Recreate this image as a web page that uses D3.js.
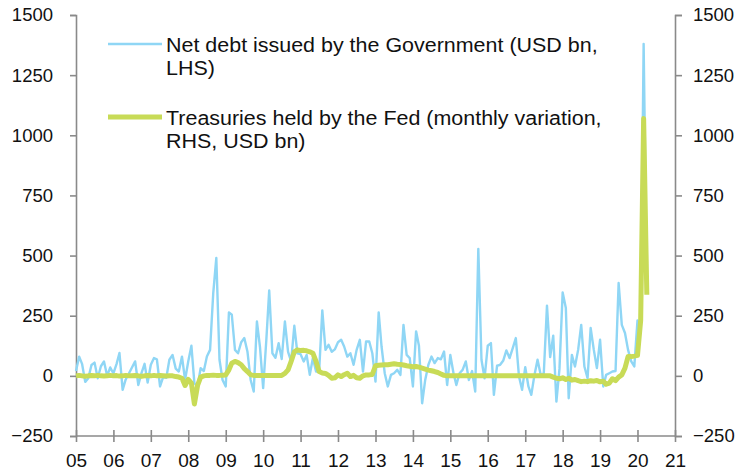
<!DOCTYPE html>
<html><head><meta charset="utf-8">
<script src="https://cdn.jsdelivr.net/npm/d3@7"></script>
<style>
html,body{margin:0;padding:0;background:#fff;}
text{font-family:"Liberation Sans",Arial,sans-serif;fill:#111;}
</style></head>
<body><svg id="c" width="742" height="474"></svg>
<script>
// Monthly data starting Jan 2005
const startYear = 2005;
const debtIssued = [
  // 2005
  20, 80, 50, -25, -10, 45, 55, -10, 40, 60, 0, 35,
  // 2006
  10, 50, 95, -58, -15, 10, 35, 60, -38, 10, 50, -28,
  // 2007
  46, 74, 69, -44, -5, -8, 67, 87, 30, 18, 80, -17,
  // 2008
  60, 125, -30, -44, 32, 20, 80, 108, 344, 490, 67, -17,
  // 2009
  -44, 264, 254, 108, 94, 140, 157, 100, -17, -65, 226, 120,
  // 2010
  -51, 150, 355, 94, 75, 136, 70, 226, 100, 60, 208, 94,
  // 2011
  90, 60, 87, 4, 74, 18, 18, 272, 108, 129, 100, 110,
  // 2012
  140, 150, 122, 80, 94, 46, 108, 150, 18, 143, 143, 94,
  // 2013
  -24, 264, 122, 11, -44, 4, 11, 25, 4, 212, 87, 74,
  // 2014
  -44, 185, 125, -114, -17, 46, 80, 53, 74, 69, 101, -38,
  // 2015
  87, 11, -38, 11, 25, 60, -17, 20, -65, 528, 67, -10,
  // 2016
  125, 136, -79, 42, 46, 64, 106, 74, 115, 157, -3, -58,
  // 2017
  36, -44, -79, 4, 67, 4, 11, 292, 78, 167, -107, 30,
  // 2018
  347, 282, -93, 87, 39, 108, 212, 39, -10, 199, 108, 32,
  // 2019
  150, -44, 4, 11, 18, 20, 386, 212, 178, 108, 60, 39,
  // 2020
  230, 200, 1380, 350
];
const fedTreasuries = [
  // 2005
  0, 2, 0, -2, 0, 1, 0, 2, 0, -1, 0, 2,
  // 2006
  0, 1, -1, 0, 2, 0, 0, 1, 0, -2, 0, 1,
  // 2007
  0, 2, 0, 1, 0, -1, 0, 0, -3, -5, -10, -40,
  // 2008
  -15, -30, -117, -40, -5, 0, 2, 2, 3, 2, 2, 3,
  // 2009
  4, 25, 53, 60, 55, 46, 30, 18, 4, 2, 2, 2,
  // 2010
  2, 2, 2, 2, 2, 2, 2, 10, 25, 60, 100, 108,
  // 2011
  105, 106, 104, 100, 94, 60, 18, 12, 10, 2, -10, -8,
  // 2012
  4, -3, 5, 11, -3, 2, -8, -10, 0, 4, 4, 6,
  // 2013
  42, 44, 45, 46, 46, 48, 50, 48, 47, 45, 42, 40,
  // 2014
  38, 39, 36, 32, 28, 24, 21, 18, 14, 8, 2, 0,
  // 2015
  0, 0, 0, 0, 0, 0, 0, 0, 0, 0, 0, 0,
  // 2016
  0, 0, 0, 0, 0, 0, 0, 0, 0, 0, 0, 0,
  // 2017
  0, 0, 0, 0, 0, 0, 0, 0, 0, -5, -10, -12,
  // 2018
  -8, -15, -10, -18, -15, -20, -24, -22, -24, -20, -22, -19,
  // 2019
  -25, -22, -35, -30, -12, -20, -5, 4, 32, 80, 80, 82,
  // 2020
  85, 230, 1070, 337
];
const yTicks = [-250, 0, 250, 500, 750, 1000, 1250, 1500];
const legendLabels = [
  ["Net debt issued by the Government (USD bn,", "LHS)"],
  ["Treasuries held by the Fed (monthly variation,", "RHS, USD bn)"]
];
const colors = ["#8fd6f5", "#c8db57"];

const svg = d3.select("#c");
const mLeft = 76, mRight = 675, mTop = 15, mBottom = 436;
const x = d3.scaleTime().domain([new Date(2005,0,1), new Date(2021,0,1)]).range([mLeft, mRight]);
const y = d3.scaleLinear().domain([-250, 1500]).range([mBottom, mTop]);
const dateOf = i => new Date(startYear + Math.floor(i/12), i%12, 1);
const axisColor = "#8a8a8a";

// Left axis
const gl = svg.append("g").attr("transform", `translate(${mLeft},0)`)
  .call(d3.axisLeft(y).tickValues(yTicks).tickSize(6).tickPadding(17).tickFormat(d3.format("d")));
// Right axis
const gr = svg.append("g").attr("transform", `translate(${mRight},0)`)
  .call(d3.axisRight(y).tickValues(yTicks).tickSize(7).tickPadding(11).tickFormat(d3.format("d")));
[gl, gr].forEach(g => {
  g.select(".domain").attr("stroke", axisColor).attr("stroke-width", 1.6);
  g.selectAll(".tick line").attr("stroke", axisColor).attr("stroke-width", 1.6);
  g.selectAll(".tick text").style("font-size", "18.5px").attr("fill", "#111")
    .style("font-family", '"Liberation Sans",Arial,sans-serif');
});

// Bottom axis
const years = d3.range(2005, 2022).map(yy => new Date(yy,0,1));
const gb = svg.append("g").attr("transform", `translate(0,${mBottom})`)
  .call(d3.axisBottom(x).tickValues(years).tickSize(6).tickPadding(12).tickFormat(d3.timeFormat("%y")));
gb.select(".domain").attr("stroke", axisColor).attr("stroke-width", 1.6).attr("d", `M${mLeft},0H${mRight}`);
gb.selectAll(".tick line").attr("stroke", axisColor).attr("stroke-width", 1.6).attr("y1", -6).attr("y2", 6);
gb.selectAll(".tick text").style("font-size", "19px").attr("fill", "#111")
  .style("font-family", '"Liberation Sans",Arial,sans-serif');

// Lines
const line = d3.line().x((d,i) => x(dateOf(i))).y(d => y(d));
svg.append("path").datum(debtIssued).attr("d", line)
  .attr("fill", "none").attr("stroke", colors[0]).attr("stroke-width", 2.4).attr("stroke-linejoin", "round");
svg.append("path").datum(fedTreasuries).attr("d", line)
  .attr("fill", "none").attr("stroke", colors[1]).attr("stroke-width", 5).attr("stroke-linejoin", "round");

// Legend
const lg = svg.append("g");
const legY = [44, 117];
legendLabels.forEach((lines, k) => {
  lg.append("line").attr("x1", 108).attr("x2", 162).attr("y1", legY[k]).attr("y2", legY[k])
    .attr("stroke", colors[k]).attr("stroke-width", k === 0 ? 2.4 : 5);
  lines.forEach((t, j) => {
    const tx = lg.append("text").attr("x", 166).attr("y", legY[k] + 8 + j*23)
      .style("font-size", "19.5px").text(t);
    const w = tx.node().getComputedTextLength();
    tx.attr("textLength", w * 1.1).attr("lengthAdjust", "spacingAndGlyphs");
  });
});
</script>
</body></html>
